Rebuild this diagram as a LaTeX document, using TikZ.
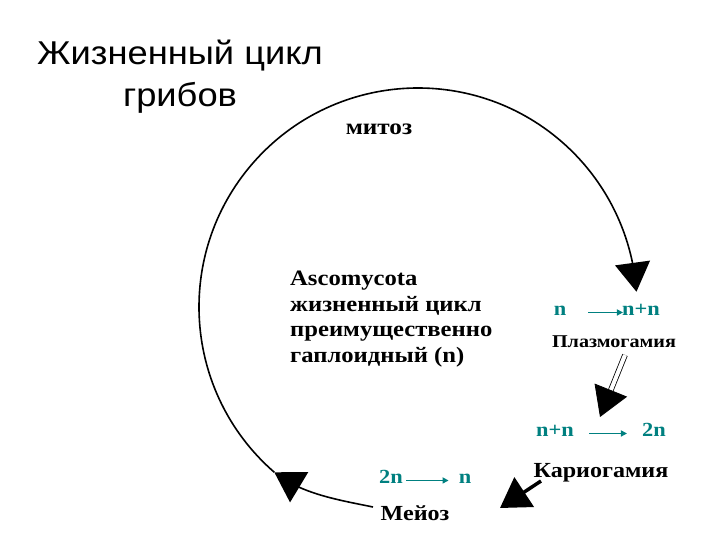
\documentclass[tikz,border=0pt]{standalone}
\usepackage{fontspec}
\setmainfont{Liberation Serif}[FakeStretch=1.12]
\newfontfamily\titlefont{Liberation Sans}[FakeStretch=1.1]
\usetikzlibrary{arrows.meta, bending}
\definecolor{ploidyteal}{RGB}{0,128,128}

\begin{document}
\begin{tikzpicture}[x=1pt, y=-1pt,
    stage/.style={font=\bfseries\fontsize{21.5}{26}\selectfont, inner sep=0pt},
    ploidy/.style={text=ploidyteal, font=\bfseries\fontsize{20}{24}\selectfont, inner sep=0pt, text height=1.1ex, text depth=0pt},
    cyclearrow/.style={line width=1.6pt, -{Triangle[length=29pt, width=35pt, flex]}},
    ploidyarrow/.style={draw=ploidyteal, line width=1.5pt, -{Triangle[length=6pt, width=6pt]}}]
    %% the page is 720 x 540, one pt per pixel (y runs downwards)
        \useasboundingbox (0,0) rectangle (720,540);
    %% title
        \node[font=\titlefont\fontsize{33}{40}\selectfont, anchor=base] (title1) at (180,65) {Жизненный цикл};
        \node[font=\titlefont\fontsize{33}{40}\selectfont, anchor=base] (title2) at (180,107) {грибов};
    %% the big cycle
        \coordinate (cyclecentre) at (418,307);
        \draw[cyclearrow] (cyclecentre) ++(131:219) coordinate (arcstart) arc[start angle=131, end angle=356, radius=219] coordinate (mitosisend);
        \coordinate (meiosisstart) at (373,507);
        \draw[cyclearrow] (meiosisstart) .. controls (339,500) and (301,494) .. (arcstart);
    %% mitosis
        \node[stage, font=\bfseries\fontsize{22.5}{26}\selectfont, anchor=base] (mitosis) at (379,135) {митоз};
    %% middle text
        \node[stage, font=\bfseries\fontsize{22}{25.5}\selectfont, align=left, anchor=north west] (asco) at (290,271) {Ascomycota\\жизненный цикл\\преимущественно\\гаплоидный (n)};
    %% plasmogamy
        \node[ploidy, anchor=base] (n1) at (560,315) {n};
        \node[ploidy, anchor=base] (nn1) at (641,315) {n+n};
        \draw[ploidyarrow, shorten <=22pt, shorten >=-1pt] (n1.east) -- (nn1.west);
        \node[stage, font=\bfseries\fontsize{18}{21}\selectfont, anchor=base] (plasmo) at (614,347) {Плазмогамия};
        \coordinate (plasmostart) at (625,355);
        \coordinate (plasmotip) at (600,417);
        \draw[line width=0.8pt, double distance=4pt, -{Triangle[length=29pt, width=35pt]}] (plasmostart) -- (plasmotip);
    %% karyogamy
        \node[ploidy, anchor=base] (nn2) at (555,436) {n+n};
        \node[ploidy, anchor=base] (twon2) at (654,436) {2n};
        \draw[ploidyarrow, shorten <=15pt, shorten >=15pt] (nn2.east) -- (twon2.west);
        \node[stage, anchor=base] (karyo) at (601,477) {Кариогамия};
        \coordinate (karyostart) at (541,481);
        \coordinate (karyotip) at (500,508);
        \draw[line width=3.5pt, -{Triangle[length=29pt, width=35pt]}] (karyostart) -- (karyotip);
    %% meiosis
        \node[ploidy, anchor=base] (twon3) at (391,483) {2n};
        \node[ploidy, anchor=base] (n3) at (465,483) {n};
        \draw[ploidyarrow, shorten <=3pt, shorten >=10pt] (twon3.east) -- (n3.west);
        \node[stage, anchor=base] (meiosis) at (415,520) {Мейоз};
\end{tikzpicture}
\end{document}
